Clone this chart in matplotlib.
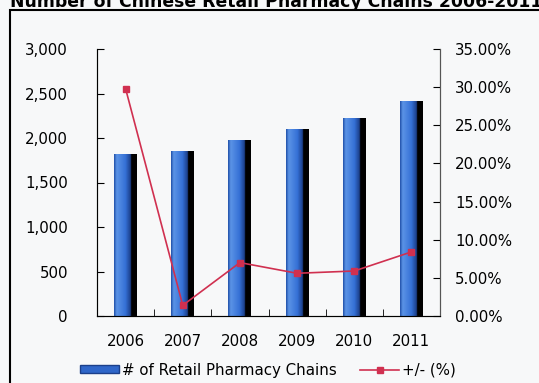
import matplotlib
matplotlib.use("Agg")
from matplotlib import pyplot as plt
from matplotlib.colors import LinearSegmentedColormap
from matplotlib.patches import Rectangle
from matplotlib.ticker import FuncFormatter
import numpy as np

years = ['2006', '2007', '2008', '2009', '2010', '2011']
chains = [1820, 1855, 1980, 2100, 2220, 2415]
change_pct = [29.8, 1.4, 7.0, 5.6, 5.9, 8.4]

title = 'Number of Chinese Retail Pharmacy Chains 2006-2011'
bar_label = '# of Retail Pharmacy Chains'
line_label = '+/- (%)'

BG = '#f7f8f9'
RED = '#d03050'
FS = 10.8
bar_cmap = LinearSegmentedColormap.from_list(
    'bevel', [(0.0, '#1f4fa8'), (0.12, '#5b93e6'), (0.5, '#3570d6'),
              (0.72, '#1b3f8a'), (0.76, '#000000'), (1.0, '#000000')])

fig = plt.figure(figsize=(5.39, 3.83), dpi=100, facecolor=BG)
ax = fig.add_axes([97/539, 67/383, 343/539, 267/383], facecolor=BG)

x = np.arange(len(years))
width = 0.4
bars = ax.bar(x, chains, width=width, color='none', zorder=2)
gradient = np.vstack([np.linspace(0, 1, 256)] * 2)
for b in bars:
    x0, y0 = b.get_x(), b.get_y()
    im = ax.imshow(gradient, cmap=bar_cmap, aspect='auto', zorder=2,
                   extent=[x0, x0 + b.get_width(), y0, y0 + b.get_height()])
    im.set_clip_path(b)

ax.set_xlim(-0.5, len(years) - 0.5)
ax.set_ylim(0, 3000)
ax.set_yticks(range(0, 3001, 500))
ax.yaxis.set_major_formatter(FuncFormatter(lambda v, p: f'{int(v):,}'))
ax.set_xticks(x)
ax.set_xticklabels(years)
ax.set_xticks(np.arange(0.5, len(years) - 1, 1), minor=True)
ax.tick_params(axis='x', which='major', length=0, pad=13, labelsize=FS)
ax.tick_params(axis='x', which='minor', direction='in', length=5)
ax.tick_params(axis='y', direction='in', length=5, pad=21, labelsize=FS)
ax.spines['top'].set_visible(False)
for s in ['left', 'bottom', 'right']:
    ax.spines[s].set_color('#555555')

ax2 = ax.twinx()
ax2.plot(x, change_pct, color=RED, lw=1.2, marker='s', markersize=5,
         markerfacecolor=RED, markeredgecolor=RED, zorder=3)
ax2.set_ylim(0, 35)
ax2.set_yticks(np.arange(0, 35.1, 5))
ax2.yaxis.set_major_formatter(FuncFormatter(lambda v, p: f'{v:.2f}%'))
ax2.tick_params(axis='y', direction='in', length=5, pad=11, labelsize=FS)
ax2.spines['top'].set_visible(False)
ax2.spines['right'].set_color('#555555')

bar_handle = Rectangle((0, 0), 1, 1, facecolor='#2f66c9', edgecolor='#1b3f8a')
line_handle, = ax2.plot([], [], color=RED, lw=1.2, marker='s', markersize=4)
fig.legend([bar_handle, line_handle], [bar_label, line_label],
           loc='center', bbox_to_anchor=(268/539, 13/383), ncol=2,
           frameon=False, fontsize=FS, handlelength=2.6, handletextpad=0.2,
           columnspacing=1.6, handleheight=0.5)

fig.patches.append(Rectangle((10/539, -0.1), 1.0, 1.1 - 10/383, fill=False,
                             edgecolor='black', lw=1.5,
                             transform=fig.transFigure, figure=fig))
fig.text(10/539, 1 - 2/383, title, ha='left', va='center',
         fontsize=12.4, fontweight='bold')

fig.savefig('out.png', dpi=100, facecolor=BG)
